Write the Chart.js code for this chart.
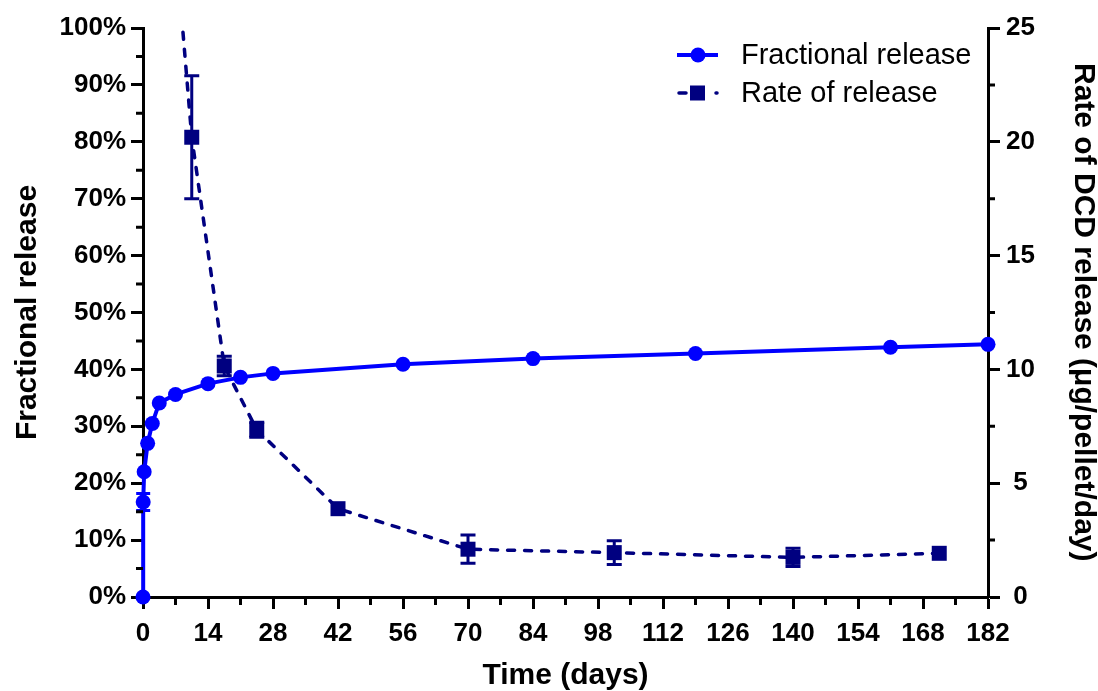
<!DOCTYPE html>
<html>
<head>
<meta charset="utf-8">
<script src="https://cdn.jsdelivr.net/npm/chart.js@4.4.1/dist/chart.umd.min.js"></script>
<style>
  html, body { margin: 0; padding: 0; background: #fff; }
  #chart { display: block; }
</style>
</head>
<body>
<canvas id="chart" width="1098" height="691"></canvas>
<script>
// Fractional release (left axis, %)
const fracDays = [0, 0.04, 0.25, 1, 2, 3.5, 7, 14, 21, 28, 56, 84, 119, 161, 182];
const fracValues = [0, 16.7, 22.0, 27.0, 30.5, 34.1, 35.6, 37.5, 38.6, 39.3, 40.9, 41.9, 42.8, 43.9, 44.4];
const fracErrors = [0, 1.5, 0, 0, 0, 0, 0, 0, 0, 0, 0, 0, 0, 0, 0];

// Rate of release (right axis, µg/pellet/day), plotted at interval midpoints
const rateDays = [5.25, 10.5, 17.5, 24.5, 42, 70, 101.5, 140, 171.5];
const rateValues = [33.0, 20.2, 10.15, 7.35, 3.88, 2.1, 1.95, 1.74, 1.92];
const rateErrors = [0, 2.7, 0.43, 0.33, 0, 0.62, 0.52, 0.4, 0];

const xTicks = [0, 14, 28, 42, 56, 70, 84, 98, 112, 126, 140, 154, 168, 182];

const BLUE = '#0000ff';
const NAVY = '#000080';
const FONT = "'Liberation Sans', Arial, sans-serif";
const RIGHT_TITLE = 'Rate of DCD release (μg/pellet/day)';

Chart.defaults.font.family = FONT;
Chart.defaults.color = '#000';

function toPoints(xs, ys) {
    return xs.map((x, i) => ({ x: x, y: ys[i] }));
}

// error bars, drawn with the chart's own scales
function drawErrors(chart, xs, ys, errs, axisId, color, capWidth) {
    const ctx = chart.ctx;
    const xScale = chart.scales.x;
    const yScale = chart.scales[axisId];
    const area = chart.chartArea;
    ctx.save();
    ctx.beginPath();
    ctx.rect(area.left - 10, area.top, area.right - area.left + 20, area.bottom - area.top + 10);
    ctx.clip();
    ctx.strokeStyle = color;
    ctx.lineWidth = 3;
    xs.forEach((x, i) => {
        if (!errs[i]) return;
        const px = xScale.getPixelForValue(x);
        const top = yScale.getPixelForValue(ys[i] + errs[i]);
        const bot = yScale.getPixelForValue(ys[i] - errs[i]);
        ctx.beginPath();
        ctx.moveTo(px, top);
        ctx.lineTo(px, bot);
        ctx.moveTo(px - capWidth / 2, top);
        ctx.lineTo(px + capWidth / 2, top);
        ctx.moveTo(px - capWidth / 2, bot);
        ctx.lineTo(px + capWidth / 2, bot);
        ctx.stroke();
    });
    ctx.restore();
}

const errorBarPlugin = {
    id: 'errorBars',
    afterDatasetsDraw(chart) {
        drawErrors(chart, fracDays, fracValues, fracErrors, 'y', BLUE, 14);
        drawErrors(chart, rateDays, rateValues, rateErrors, 'y1', NAVY, 15);
    }
};

// minor (unlabelled) ticks between the major ones
const minorTickPlugin = {
    id: 'minorTicks',
    afterDraw(chart) {
        const ctx = chart.ctx;
        const { x, y, y1 } = chart.scales;
        const area = chart.chartArea;
        ctx.save();
        ctx.strokeStyle = '#000';
        ctx.lineWidth = 3;
        ctx.beginPath();
        for (let d = 7; d < 182; d += 14) {
            const px = x.getPixelForValue(d);
            ctx.moveTo(px, area.bottom);
            ctx.lineTo(px, area.bottom + 8);
        }
        for (let v = 5; v < 100; v += 10) {
            const py = y.getPixelForValue(v);
            ctx.moveTo(area.left, py);
            ctx.lineTo(area.left - 7, py);
        }
        for (let v = 2.5; v < 25; v += 5) {
            const py = y1.getPixelForValue(v);
            ctx.moveTo(area.right, py);
            ctx.lineTo(area.right + 7, py);
        }
        ctx.stroke();
        ctx.restore();
    }
};

// right axis title, reading top to bottom
const rightTitlePlugin = {
    id: 'rightTitle',
    afterDraw(chart) {
        const ctx = chart.ctx;
        ctx.save();
        ctx.translate(1083, 63);
        ctx.rotate(Math.PI / 2);
        ctx.font = 'bold 30px ' + FONT;
        ctx.fillStyle = '#000';
        ctx.textAlign = 'left';
        ctx.textBaseline = 'middle';
        ctx.fillText(RIGHT_TITLE, 0, 0);
        ctx.restore();
    }
};

// legend in the top right of the plot
const legendPlugin = {
    id: 'customLegend',
    afterDraw(chart) {
        const ctx = chart.ctx;
        ctx.save();
        ctx.font = '29px ' + FONT;
        ctx.fillStyle = '#000';
        ctx.textBaseline = 'middle';

        // Fractional release
        let y = 55;
        ctx.strokeStyle = BLUE;
        ctx.lineWidth = 4;
        ctx.beginPath();
        ctx.moveTo(677, y);
        ctx.lineTo(718, y);
        ctx.stroke();
        ctx.fillStyle = BLUE;
        ctx.beginPath();
        ctx.arc(698, y, 7.5, 0, Math.PI * 2);
        ctx.fill();
        ctx.fillStyle = '#000';
        ctx.fillText('Fractional release', 741, y + 1);

        // Rate of release
        y = 93;
        ctx.strokeStyle = NAVY;
        ctx.lineWidth = 3.5;
        ctx.lineCap = 'round';
        ctx.beginPath();
        ctx.moveTo(679, y);
        ctx.lineTo(686, y);
        ctx.moveTo(716, y);
        ctx.lineTo(717, y);
        ctx.stroke();
        ctx.fillStyle = NAVY;
        ctx.fillRect(690, y - 7.5, 15, 15);
        ctx.fillStyle = '#000';
        ctx.fillText('Rate of release', 741, y + 1);
        ctx.restore();
    }
};

const axisGrid = {
    display: true,
    drawOnChartArea: false,
    drawTicks: true,
    tickLength: 12,
    tickWidth: 3,
    tickColor: '#000'
};

const ctx = document.getElementById('chart');
new Chart(ctx, {
    type: 'line',
    data: {
        datasets: [
            {
                label: 'Rate of release',
                data: toPoints(rateDays, rateValues),
                yAxisID: 'y1',
                borderColor: NAVY,
                backgroundColor: NAVY,
                borderWidth: 3.5,
                borderDash: [7, 10],
                borderCapStyle: 'round',
                pointStyle: 'rect',
                pointRadius: 10.6,
                pointBorderWidth: 0,
                tension: 0,
                order: 1,
                clip: { left: 12, right: 12, top: 0, bottom: 12 }
            },
            {
                label: 'Fractional release',
                data: toPoints(fracDays, fracValues),
                yAxisID: 'y',
                borderColor: BLUE,
                backgroundColor: BLUE,
                borderWidth: 4,
                pointStyle: 'circle',
                pointRadius: 7.5,
                pointBorderWidth: 0,
                tension: 0,
                order: 2,
                clip: 12
            }
        ]
    },
    options: {
        responsive: false,
        animation: false,
        layout: { padding: { top: 28, left: 0, right: 0, bottom: 0 } },
        plugins: {
            legend: { display: false },
            tooltip: { enabled: false }
        },
        scales: {
            x: {
                type: 'linear',
                min: 0,
                max: 182,
                afterBuildTicks(scale) {
                    scale.ticks = xTicks.map(v => ({ value: v }));
                },
                grid: axisGrid,
                border: { display: true, color: '#000', width: 3 },
                ticks: {
                    font: { size: 26, weight: 'bold' },
                    padding: 9,
                    maxRotation: 0,
                    autoSkip: false
                },
                title: {
                    display: true,
                    text: 'Time (days)',
                    font: { size: 30, weight: 'bold', lineHeight: 1 },
                    padding: { top: 0, bottom: 0 }
                },
                afterFit(scale) { scale.height = 94; }
            },
            y: {
                position: 'left',
                min: 0,
                max: 100,
                grid: axisGrid,
                border: { display: true, color: '#000', width: 3 },
                ticks: {
                    stepSize: 10,
                    font: { size: 26, weight: 'bold' },
                    padding: 5,
                    callback: v => v + '%'
                },
                title: {
                    display: true,
                    text: 'Fractional release',
                    font: { size: 30, weight: 'bold', lineHeight: 1 },
                    padding: { top: 13, bottom: 0 }
                },
                afterFit(scale) { scale.width = 143; }
            },
            y1: {
                position: 'right',
                min: 0,
                max: 25,
                grid: axisGrid,
                border: { display: true, color: '#000', width: 3 },
                ticks: {
                    stepSize: 5,
                    font: { size: 26, weight: 'bold' },
                    padding: 6,
                    crossAlign: 'center'
                },
                title: { display: false },
                afterFit(scale) { scale.width = 110; }
            }
        }
    },
    plugins: [errorBarPlugin, minorTickPlugin, rightTitlePlugin, legendPlugin]
});
</script>
</body>
</html>
